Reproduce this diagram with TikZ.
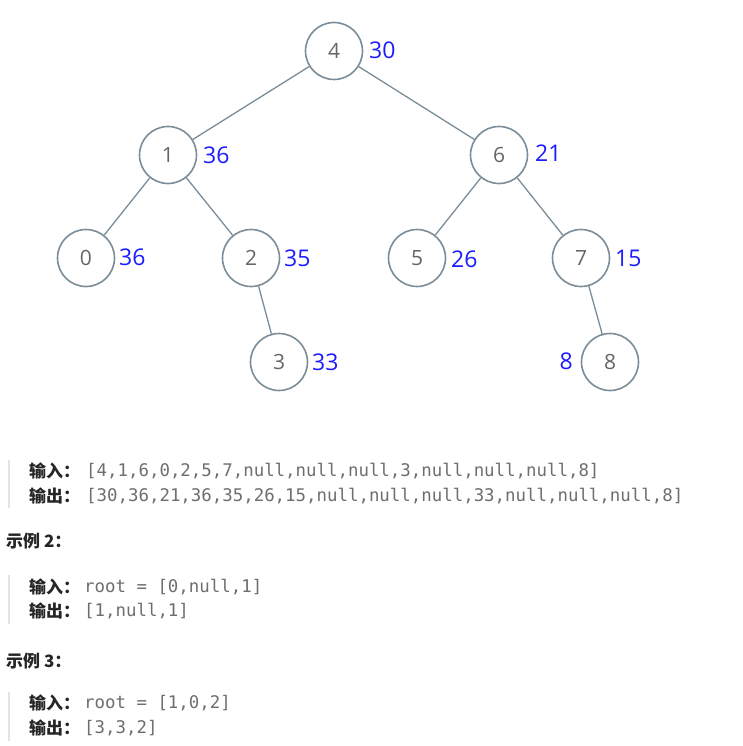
\documentclass[tikz,border=0pt]{standalone}
\usepackage{fontspec}
\setmainfont{Open Sans}
\newfontfamily\cjk{Noto Sans CJK SC}
\newfontfamily\mono{DejaVu Sans Mono}
\definecolor{edgec}{HTML}{7B8D98}
\definecolor{numc}{HTML}{666666}
\definecolor{labc}{HTML}{1C1CFF}
\definecolor{codec}{HTML}{6E6E6E}
\definecolor{headc}{HTML}{262626}
\definecolor{barc}{HTML}{E3E3E3}
\tikzset{
  tnode/.style={circle, draw=edgec, line width=1.6pt, minimum size=57pt, inner sep=0pt, fill=white,
    text=numc, font=\fontsize{21}{24}\selectfont},
  vlab/.style={anchor=west, inner sep=0pt, text=labc, font=\fontsize{23}{25}\selectfont},
  tedge/.style={draw=edgec, line width=1.3pt},
  kw/.style={anchor=west, inner sep=0pt, text=headc, font=\fontsize{17}{19}\selectfont\cjk\bfseries},
  code/.style={anchor=west, inner sep=0pt, text=codec, font=\fontsize{17.4}{19}\selectfont\mono},
  qbar/.style={draw=barc, line width=2pt}
}
\begin{document}
\begin{tikzpicture}[x=1pt,y=-1pt]
\useasboundingbox (0,0) rectangle (742,746);
\fill[white] (0,0) rectangle (742,746);
% tree nodes
\node[tnode] (n4) at (334,51) {4};
\node[tnode] (n1) at (168,155) {1};
\node[tnode] (n6) at (499,155) {6};
\node[tnode] (n0) at (86,258) {0};
\node[tnode] (n2) at (251,258) {2};
\node[tnode] (n5) at (417,258) {5};
\node[tnode] (n7) at (581,258) {7};
\node[tnode] (n3) at (279,362) {3};
\node[tnode] (n8) at (610,362) {8};
% edges
\draw[tedge] (n4) -- (n1);
\draw[tedge] (n4) -- (n6);
\draw[tedge] (n1) -- (n0);
\draw[tedge] (n1) -- (n2);
\draw[tedge] (n6) -- (n5);
\draw[tedge] (n6) -- (n7);
\draw[tedge] (n2) -- (n3);
\draw[tedge] (n7) -- (n8);
% value labels
\node[vlab] (v4) at (369,50) {30};
\node[vlab] (v1) at (203,155) {36};
\node[vlab] (v6) at (535,153) {21};
\node[vlab] (v0) at (119,257) {36};
\node[vlab] (v2) at (284,258) {35};
\node[vlab] (v5) at (451,259) {26};
\node[vlab] (v7) at (615,258) {15};
\node[vlab] (v3) at (312,362) {33};
\node[vlab,anchor=east] (v8) at (573,361) {8};
% example 1
\coordinate (b1t) at (9,460);
\coordinate (b1b) at (9,508);
\draw[qbar] (b1t) -- (b1b);
\node[kw] (k1a) at (29,471) {输入：};
\node[code] (c1a) at (86,471) {[4,1,6,0,2,5,7,null,null,null,3,null,null,null,8]};
\node[kw] (k1b) at (29,496) {输出：};
\node[code] (c1b) at (86,496) {[30,36,21,36,35,26,15,null,null,null,33,null,null,null,8]};
% example 2
\node[kw] (h2) at (6,541) {示例 2：};
\coordinate (b2t) at (9,575);
\coordinate (b2b) at (9,624);
\draw[qbar] (b2t) -- (b2b);
\node[kw] (k2a) at (29,587) {输入：};
\node[code] (c2a) at (84,587) {root = [0,null,1]};
\node[kw] (k2b) at (29,611) {输出：};
\node[code] (c2b) at (84,611) {[1,null,1]};
% example 3
\node[kw] (h3) at (6,661) {示例 3：};
\coordinate (b3t) at (9,692);
\coordinate (b3b) at (9,741);
\draw[qbar] (b3t) -- (b3b);
\node[kw] (k3a) at (29,703) {输入：};
\node[code] (c3a) at (84,703) {root = [1,0,2]};
\node[kw] (k3b) at (29,728) {输出：};
\node[code] (c3b) at (84,728) {[3,3,2]};
\end{tikzpicture}
\end{document}
